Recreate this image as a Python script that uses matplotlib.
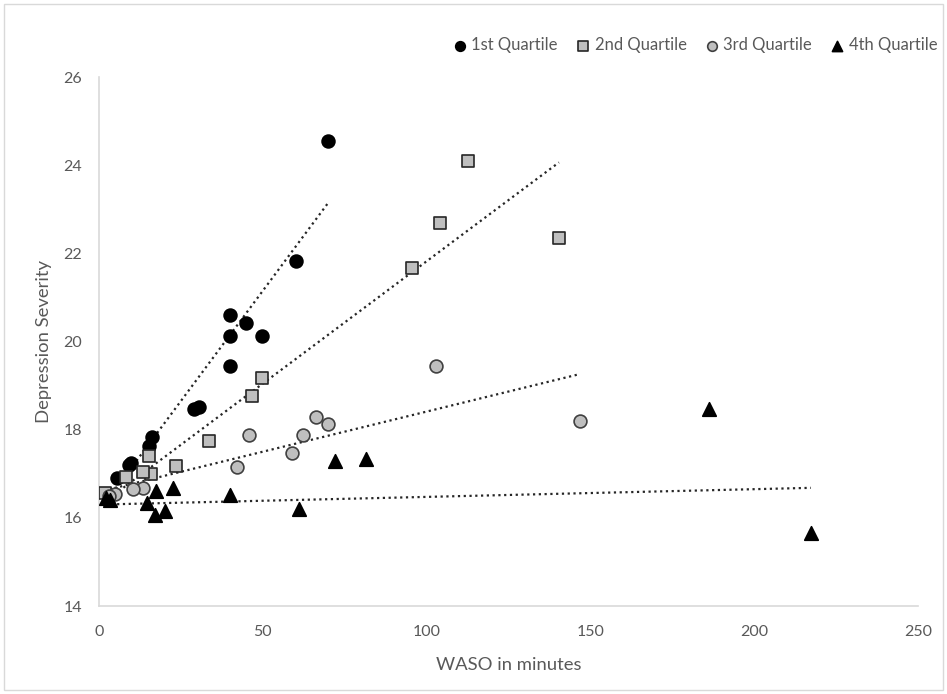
import matplotlib
matplotlib.use("Agg")
import matplotlib.pyplot as plt
import numpy as np

plt.rcParams['font.family'] = ['Lato', 'DejaVu Sans']

# WASO (minutes) vs depression severity, per quartile
q1_x = [70, 60, 40, 44.8, 40, 49.8, 40, 29, 30.5, 16.2, 15.3, 9.8, 9.2, 5.5, 3]
q1_y = [24.55, 21.83, 20.6, 20.42, 20.13, 20.13, 19.44, 18.47, 18.52, 17.83, 17.63, 17.24, 17.2, 16.9, 16.55]

q2_x = [112.6, 104.1, 140.4, 95.5, 49.8, 46.7, 33.6, 23.5, 15.3, 15.9, 13.4, 8.2, 1.8]
q2_y = [24.09, 22.69, 22.35, 21.67, 19.17, 18.76, 17.74, 17.18, 17.4, 16.99, 17.04, 16.93, 16.56]

q3_x = [146.8, 102.9, 66.2, 69.9, 62.3, 45.8, 58.9, 42.1, 13.4, 10.4, 4.9, 3]
q3_y = [18.2, 19.44, 18.29, 18.13, 17.88, 17.88, 17.47, 17.15, 16.68, 16.65, 16.54, 16.5]

q4_x = [217.3, 186.2, 81.5, 72, 61, 40, 22.6, 17.4, 14.7, 20.1, 17.1, 3.4, 2]
q4_y = [15.66, 18.47, 17.33, 17.29, 16.2, 16.52, 16.68, 16.61, 16.34, 16.15, 16.06, 16.4, 16.45]

# linear trendlines (slope, intercept)
trend_slope = [0.100, 0.0555, 0.0182, 0.00175]
trend_icpt = [16.15, 16.27, 16.59, 16.30]

labels = ['1st Quartile', '2nd Quartile', '3rd Quartile', '4th Quartile']
series = [(q1_x, q1_y), (q2_x, q2_y), (q3_x, q3_y), (q4_x, q4_y)]
markers = ['o', 's', 'o', '^']
faces = ['black', '#BFBFBF', '#BFBFBF', 'black']
edges = ['black', '#262626', '#404040', 'black']

fig = plt.figure(figsize=(9.47, 6.94), dpi=100)
ax = fig.add_axes([99/947, 1-606/694, (918-99)/947, (606-77)/694])

# faint chart-area border
fig.patches.append(plt.Rectangle((4/947, 4/694), 939/947, 686/694, transform=fig.transFigure,
                                 fill=False, edgecolor='#D9D9D9', linewidth=1))

for i, ((x, y), lab) in enumerate(zip(series, labels)):
    m = markers[i]
    ax.scatter(x, y, marker=m, s=85 if m != '^' else 95, facecolor=faces[i], edgecolor=edges[i],
               linewidth=1.2, label=lab, zorder=3)
    xx = np.array([min(x), max(x)])
    ax.plot(xx, trend_slope[i]*xx + trend_icpt[i], linestyle=(0, (1, 1.6)),
            color='#262626', linewidth=1.6, zorder=2)

ax.set_xlim(0, 250)
ax.set_ylim(14, 26)
ax.set_xticks([0, 50, 100, 150, 200, 250])
ax.set_yticks([14, 16, 18, 20, 22, 24, 26])
for s in ['top', 'right']:
    ax.spines[s].set_visible(False)
for s in ['left', 'bottom']:
    ax.spines[s].set_color('#D9D9D9')
    ax.spines[s].set_linewidth(1.2)
ax.tick_params(length=0, labelsize=11.5, labelcolor='#595959', pad=14)
ax.tick_params(axis='y', pad=12)

ax.set_xlabel('WASO in minutes', fontsize=13.3, color='#595959', labelpad=13)
ax.set_ylabel('Depression Severity', fontsize=13.3, color='#595959', labelpad=8)

leg = fig.legend(loc='center right', bbox_to_anchor=(944/947, 1-45/694), ncol=4, frameon=False,
                 fontsize=12, handletextpad=0.1, columnspacing=0.9, handlelength=1.2,
                 markerscale=0.75, borderaxespad=0)
for t in leg.get_texts():
    t.set_color('#595959')

fig.savefig('out.png', dpi=100)
